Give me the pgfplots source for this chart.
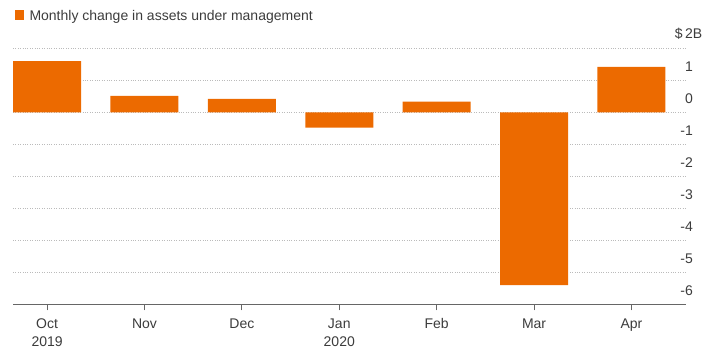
\documentclass[border=0pt]{standalone}
\usepackage{pgfplots}
\pgfplotsset{compat=1.18}
\usepackage{fontspec}
\setmainfont{Liberation Sans}
\definecolor{barorange}{HTML}{EC6A00}
\definecolor{txt}{HTML}{3C3C3C}
\definecolor{grd}{HTML}{BBBBBB}
\begin{document}
\begin{tikzpicture}
\useasboundingbox (-13pt,-47.7pt) rectangle (700pt,304.3pt);
\begin{axis}[
 at={(0pt,0pt)}, anchor=south west,
 scale only axis, width=673pt, height=256pt,
 xmin=-0.35, xmax=6.56, ymin=-6, ymax=2,
 axis x line*=bottom, axis y line*=right,
 y axis line style={draw=none},
 x axis line style={draw=black!60, line width=0.9pt, -},
 xtick={0,...,6},
 xticklabels={{Oct\\2019},Nov,Dec,{Jan\\2020},Feb,Mar,Apr},
 xticklabel style={align=center, yshift=-5pt, font=\fontsize{14}{18}\selectfont, text=txt},
 xtick style={draw=black!60, line width=0.9pt},
 tick align=outside, major tick length=6pt,
 ytick={-6,-5,-4,-3,-2,-1,0,1,2},
 yticklabels={-6,-5,-4,-3,-2,-1,0,1,\$\,2\rlap{B}},
 ytick style={draw=none},
 yticklabel style={anchor=south east, inner sep=0pt, xshift=1pt, yshift=8.5pt, font=\fontsize{14}{17}\selectfont, text=txt},
 ymajorgrids,
 major grid style={grd, line width=0.8pt, dash pattern=on 0.8pt off 1.6pt},
 extra y ticks={0}, extra y tick labels={},
 extra y tick style={grid style={solid, grd, line width=1pt}},
 ybar, bar width=68pt,
]
\addplot[fill=barorange, draw=none] coordinates {(0,1.6)(1,0.51)(2,0.42)(3,-0.48)(4,0.33)(5,-5.4)(6,1.42)};
\end{axis}
\fill[barorange] (2pt,284.3pt) rectangle (11.3pt,294.3pt);
\node[anchor=base west, inner sep=0pt, font=\fontsize{14}{17}\selectfont, text=txt] at (16.3pt,283.6pt) {Monthly change in assets under management};
\end{tikzpicture}
\end{document}
